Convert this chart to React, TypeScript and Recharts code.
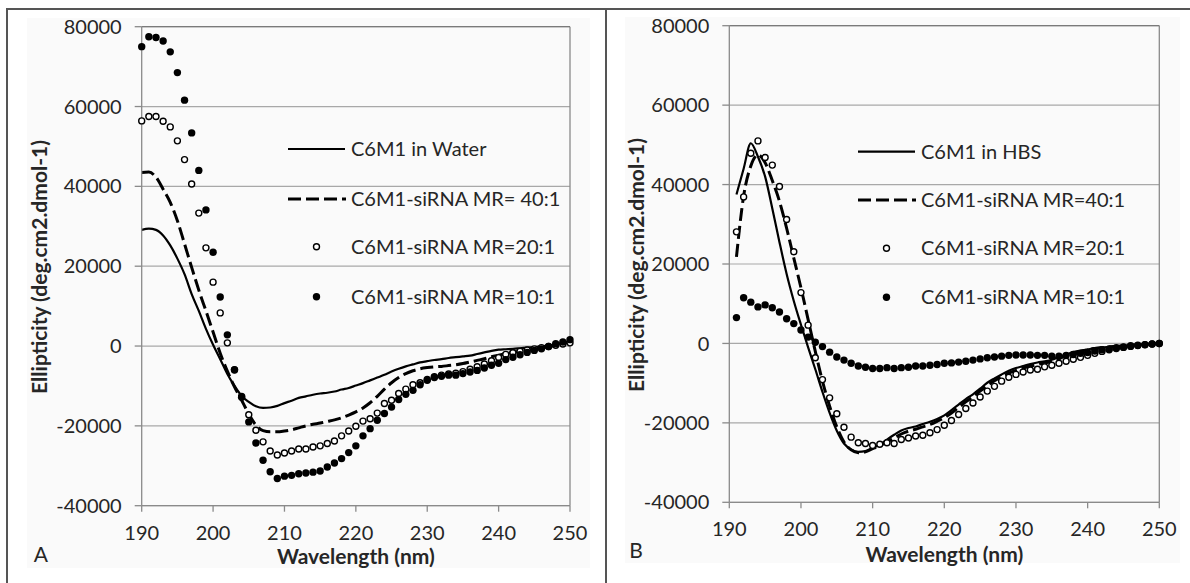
import React from 'react';
import { LineChart, Line, XAxis, YAxis, CartesianGrid, ReferenceLine, Legend, Label } from 'recharts';

const FONT = 'Lato, "Open Sans", "Liberation Sans", sans-serif';

const xTicks = [190, 200, 210, 220, 230, 240, 250];
const yTicks = [-40000, -20000, 0, 20000, 40000, 60000, 80000];

// Panel A (C6M1 in water)
const wavelengthsA = [190, 191, 192, 193, 194, 195, 196, 197, 198, 199, 200, 201, 202, 203, 204, 205, 206, 207, 208, 209, 210, 211, 212, 213, 214, 215, 216, 217, 218, 219, 220, 221, 222, 223, 224, 225, 226, 227, 228, 229, 230, 231, 232, 233, 234, 235, 236, 237, 238, 239, 240, 241, 242, 243, 244, 245, 246, 247, 248, 249, 250];
const waterA = [29100, 29400, 29100, 27700, 25200, 21900, 18000, 13000, 8800, 4300, 300, -3300, -7000, -10000, -12500, -14000, -15100, -15500, -15400, -15000, -14300, -13700, -13000, -12600, -12200, -11900, -11700, -11400, -10900, -10500, -9900, -9300, -8600, -7900, -7200, -6400, -5700, -5100, -4600, -4100, -3800, -3500, -3300, -3000, -2800, -2600, -2400, -2000, -1600, -1200, -900, -800, -700, -550, -400, -250, -100, 100, 400, 800, 1250];
const mr40A = [43500, 43600, 42300, 39300, 36000, 31400, 25600, 19700, 14000, 8800, 3500, -1800, -6300, -10200, -13600, -17000, -19800, -21200, -21500, -21500, -21300, -21000, -20500, -20000, -19600, -19300, -18900, -18500, -18000, -17300, -16500, -15500, -14200, -12600, -10800, -9200, -7900, -6900, -6200, -5700, -5400, -5200, -5100, -4900, -4700, -4400, -4000, -3600, -3200, -2700, -2300, -1900, -1600, -1300, -1100, -800, -500, -200, 200, 600, 1000];
const mr20A = [56400, 57500, 57500, 56300, 54900, 51400, 46700, 40600, 33300, 24600, 16000, 8300, 800, -6000, -12600, -17200, -21100, -24000, -26300, -27300, -26800, -26300, -25800, -25800, -25300, -25000, -24400, -23800, -22500, -21300, -20100, -18800, -18200, -16800, -14400, -13600, -11900, -10800, -9700, -9200, -8400, -7700, -7300, -7000, -6800, -6400, -5800, -5200, -4500, -3700, -2900, -2100, -1700, -1300, -1000, -700, -400, -100, 200, 500, 800];
const mr10A = [75000, 77500, 77300, 76400, 73700, 68500, 61600, 53400, 44000, 34100, 23500, 12300, 2800, -5900, -12800, -19000, -24300, -28600, -31500, -33200, -32600, -32400, -32000, -31800, -31600, -31300, -30300, -29300, -28200, -26700, -25000, -22500, -20700, -18600, -16900, -15300, -13400, -12100, -11100, -9700, -8600, -7900, -7600, -7300, -7300, -6900, -6500, -6100, -5500, -4800, -4300, -3400, -2800, -2200, -1600, -1100, -700, -100, 600, 1000, 1600];

// Panel B (C6M1 in HBS)
const wavelengthsB = [191, 192, 193, 194, 195, 196, 197, 198, 199, 200, 201, 202, 203, 204, 205, 206, 207, 208, 209, 210, 211, 212, 213, 214, 215, 216, 217, 218, 219, 220, 221, 222, 223, 224, 225, 226, 227, 228, 229, 230, 231, 232, 233, 234, 235, 236, 237, 238, 239, 240, 241, 242, 243, 244, 245, 246, 247, 248, 249, 250];
const hbsB = [37500, 44000, 50400, 47000, 42000, 34000, 25500, 17500, 10700, 4700, -1000, -6500, -12200, -17500, -22000, -25200, -26700, -27300, -27100, -26300, -25500, -24200, -23000, -21900, -21300, -20900, -20300, -19700, -19000, -18100, -16800, -15400, -14000, -12800, -11400, -9900, -8800, -7800, -6900, -6200, -5700, -5200, -4800, -4500, -4100, -3400, -2800, -2200, -1800, -1500, -1200, -1000, -850, -700, -550, -450, -350, -250, -120, 0];
const mr40B = [21800, 37100, 44700, 47500, 45500, 41000, 35800, 29000, 21500, 14000, 6000, -2000, -9500, -15800, -21000, -24800, -26800, -27500, -27300, -26500, -25800, -24800, -23800, -22800, -22100, -21600, -21000, -20400, -19600, -18700, -17500, -16100, -14700, -13400, -12000, -10600, -9400, -8400, -7500, -6800, -6200, -5700, -5300, -4900, -4500, -3800, -3100, -2500, -2000, -1600, -1300, -1100, -900, -750, -600, -480, -360, -250, -120, 0];
const mr20B = [28100, 36900, 47900, 51000, 46800, 44900, 39500, 31200, 23100, 12800, 4600, -3600, -9100, -13700, -17700, -21100, -23600, -25000, -25200, -25700, -25400, -25000, -25200, -24200, -23800, -23300, -23100, -22500, -21700, -20600, -19400, -17900, -16400, -15000, -13500, -12000, -10800, -9500, -8500, -7800, -7200, -6700, -6500, -5900, -5500, -5000, -4500, -4000, -3500, -3000, -2500, -2000, -1600, -1300, -1000, -750, -550, -350, -150, 0];
const mr10B = [6500, 11500, 10400, 9200, 9700, 9000, 7900, 6200, 5000, 3400, 1600, 300, -800, -2200, -3400, -4200, -5000, -5700, -6000, -6300, -6300, -6100, -6300, -6100, -6000, -5700, -5700, -5500, -5300, -5000, -4900, -4700, -4500, -4200, -3900, -3600, -3400, -3200, -3000, -2900, -2900, -2900, -3000, -3000, -3200, -3200, -3000, -2800, -2500, -2300, -1900, -1600, -1400, -1100, -900, -600, -450, -300, -150, 0];

const namesA = ['C6M1 in Water', 'C6M1-siRNA MR= 40:1', 'C6M1-siRNA MR=20:1', 'C6M1-siRNA MR=10:1'];
const namesB = ['C6M1 in HBS', 'C6M1-siRNA MR=40:1', 'C6M1-siRNA MR=20:1', 'C6M1-siRNA MR=10:1'];

const dataA = wavelengthsA.map((w, i) => ({ w, s0: waterA[i], s1: mr40A[i], s2: mr20A[i], s3: mr10A[i] }));
const dataB = wavelengthsB.map((w, i) => ({ w, s0: hbsB[i], s1: mr40B[i], s2: mr20B[i], s3: mr10B[i] }));

const AXIS = '#8a8a8a';
const GRID = '#a8a8a8';
const TEXT = '#262626';

type PanelProps = {
  left: number; width: number; height: number;
  margin: { top: number; right: number; bottom: number; left: number };
  data: any[]; names: string[];
  legend: { left: number; top: number; rows: number[] };
  yTitle: { x: number; y: number };
  xTitleBaseline: number;
  xTickMargin: number;
  letter: { text: string; x: number; y: number };
};

const kindFor = ['solid', 'dash', 'open', 'filled'];

function makeLegend(rows: number[]) {
  return (props: any) => {
    const payload = props.payload || [];
    return (
      <svg width={300} height={190} style={{ overflow: 'visible', display: 'block' }}>
        {payload.map((e: any) => {
          const idx = ['s0', 's1', 's2', 's3'].indexOf(e.dataKey);
          const kind = kindFor[idx];
          const y = rows[idx];
          return (
            <g key={String(e.dataKey)}>
              {kind === 'solid' && <line x1={8} x2={65} y1={y} y2={y} stroke="#000" strokeWidth={2.2} />}
              {kind === 'dash' && <line x1={8} x2={66} y1={y} y2={y} stroke="#000" strokeWidth={3} strokeDasharray="13 5" />}
              {kind === 'open' && <circle cx={36.5} cy={y} r={3} fill="#fff" stroke="#000" strokeWidth={1.4} />}
              {kind === 'filled' && <circle cx={36.5} cy={y} r={3.7} fill="#000" />}
              <text x={71} y={y + 7} fontFamily={FONT} fontSize={20} fill={TEXT}>{e.value}</text>
            </g>
          );
        })}
      </svg>
    );
  };
}

function Panel(p: PanelProps) {
  const tickStyle = { fill: TEXT, fontSize: 20, fontFamily: FONT };
  return (
    <div style={{ position: 'absolute', left: p.left, top: 0, width: p.width, height: p.height }}>
      <LineChart width={p.width} height={p.height} data={p.data} margin={p.margin}>
        <CartesianGrid horizontal vertical={false} stroke={GRID} strokeWidth={1.2} />
        <XAxis
          dataKey="w" type="number" domain={[190, 250]} ticks={xTicks} interval={0}
          tickSize={6} tickMargin={p.xTickMargin} height={50} tick={tickStyle}
          axisLine={{ stroke: AXIS, strokeWidth: 1.3 }} tickLine={{ stroke: AXIS, strokeWidth: 1.3 }}
        >
          <Label
            content={(lp: any) => {
              const vb = lp.viewBox || {};
              return (
                <g>
                  <text x={vb.x + vb.width / 2} y={p.xTitleBaseline} textAnchor="middle" fontFamily={FONT} fontSize={21} fontWeight="bold" fill={TEXT}>Wavelength (nm)</text>
                  <text x={p.letter.x} y={p.letter.y} textAnchor="middle" fontFamily={FONT} fontSize={21} fill={TEXT}>{p.letter.text}</text>
                </g>
              );
            }}
          />
        </XAxis>
        <YAxis
          type="number" domain={[-40000, 80000]} ticks={yTicks} interval={0} allowDataOverflow
          tickSize={7} tickMargin={13} width={100} tick={tickStyle}
          axisLine={{ stroke: AXIS, strokeWidth: 1.3 }} tickLine={{ stroke: AXIS, strokeWidth: 1.3 }}
        >
          <Label
            content={() => (
              <text
                x={p.yTitle.x} y={p.yTitle.y} textAnchor="middle"
                transform={`rotate(-90, ${p.yTitle.x}, ${p.yTitle.y})`}
                fontFamily={FONT} fontSize={21} fontWeight="bold" fill={TEXT}
              >Ellipticity (deg.cm2.dmol-1)</text>
            )}
          />
        </YAxis>
        <ReferenceLine x={250} stroke={AXIS} strokeWidth={1.3} />
        <ReferenceLine y={80000} stroke="#7a7a7a" strokeWidth={1.3} />
        <Legend
          layout="vertical" align="center" verticalAlign="middle"
          wrapperStyle={{ position: 'absolute', left: p.legend.left, top: p.legend.top, width: 300, height: 190 }}
          content={makeLegend(p.legend.rows)}
        />
        <Line dataKey="s0" name={p.names[0]} type="monotone" stroke="#000" strokeWidth={2.2} dot={false} activeDot={false} isAnimationActive={false} />
        <Line dataKey="s1" name={p.names[1]} type="monotone" stroke="#000" strokeWidth={3} strokeDasharray="13 5" dot={false} activeDot={false} isAnimationActive={false} />
        <Line dataKey="s2" name={p.names[2]} stroke="transparent" strokeWidth={0} dot={{ r: 3, fill: '#fff', stroke: '#000', strokeWidth: 1.4 }} activeDot={false} isAnimationActive={false} />
        <Line dataKey="s3" name={p.names[3]} stroke="transparent" strokeWidth={0} dot={{ r: 3.7, fill: '#000', stroke: 'none' }} activeDot={false} isAnimationActive={false} />
      </LineChart>
    </div>
  );
}

export default function App() {
  return (
    <div style={{ position: 'absolute', left: 0, top: 0, width: 1190, height: 583, background: '#fff', overflow: 'hidden' }}>
      <div style={{ position: 'absolute', left: 27, top: 18, width: 563, height: 550, background: '#fafafa' }} />
      <div style={{ position: 'absolute', left: 625, top: 17, width: 555, height: 546, background: '#fafafa' }} />
      <Panel
        left={0} width={600} height={583}
        margin={{ top: 26.7, right: 30, bottom: 27.3, left: 41.7 }}
        data={dataA} names={namesA}
        legend={{ left: 280, top: 130, rows: [19, 69, 116.7, 166.7] }}
        yTitle={{ x: 46.7, y: 267 }}
        xTitleBaseline={564}
        xTickMargin={14}
        letter={{ text: 'A', x: 40.8, y: 562 }}
      />
      <Panel
        left={600} width={590} height={583}
        margin={{ top: 25.7, right: 30.7, bottom: 30.7, left: 29.3 }}
        data={dataB} names={namesB}
        legend={{ left: 250, top: 130, rows: [21.7, 70, 118.3, 167.3] }}
        yTitle={{ x: 44.3, y: 265 }}
        xTitleBaseline={562}
        xTickMargin={13}
        letter={{ text: 'B', x: 36, y: 558 }}
      />
      <div style={{ position: 'absolute', left: 6, top: 8, width: 1184, height: 2, background: '#555' }} />
      <div style={{ position: 'absolute', left: 6, top: 8, width: 2, height: 575, background: '#555' }} />
      <div style={{ position: 'absolute', left: 605, top: 8, width: 2, height: 575, background: '#555' }} />
    </div>
  );
}
